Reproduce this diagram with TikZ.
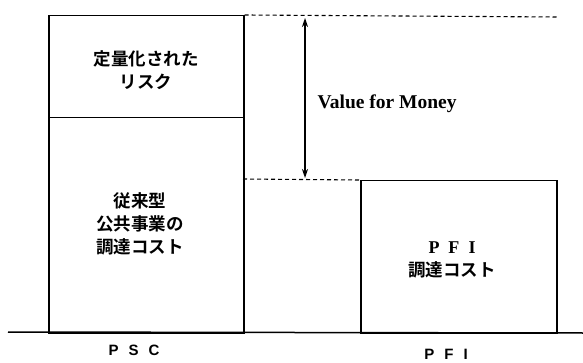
\documentclass[tikz,border=0pt]{standalone}
\usepackage{fontspec}
\setmainfont{Liberation Serif}
\newfontfamily\jp{Noto Sans CJK JP}[BoldFont={* Bold}]
\newfontfamily\lab{Liberation Sans}
\usetikzlibrary{arrows.meta}
\begin{document}
\begin{tikzpicture}[x=1pt,y=-1pt,
  box/.style={draw,line width=1.5pt,minimum width=195pt,inner sep=0pt,anchor=north west},
  jtext/.style={font=\jp\bfseries\fontsize{17.5}{23}\selectfont,align=center},
  dashline/.style={line width=1.1pt,dash pattern=on 4pt off 3pt}]
\useasboundingbox (0,0) rectangle (583,363);
\node[box,minimum height=102pt] (risk) at (48,15) {};
\node[box,minimum height=215pt] (psc) at (48,117) {};
\node[box,minimum width=196pt,minimum height=152pt] (pfi) at (360,180) {};
\coordinate (b0) at (8,332);
\coordinate (b1) at (583,333);
\draw[line width=1.5pt] (b0) -- (b1);
\coordinate (dtop) at (557,17);
\draw[dashline] (risk.north east) -- (dtop);
\coordinate (dlow) at (243,179);
\draw[dashline] (dlow) -- (pfi.north west);
\coordinate (atop) at (305,18);
\coordinate (abot) at (305,178);
\draw[line width=1.3pt,{Stealth[length=9pt,width=6pt]}-{Stealth[length=9pt,width=6pt]}] (atop) -- (abot);
\node[jtext] (t1) at (146,70) {定量化された\\リスク};
\node[jtext] (t2) at (140,224) {従来型\\公共事業の\\調達コスト};
\node[jtext] (t3) at (452,260) {{\rmfamily\bfseries\fontsize{18}{18}\selectfont P\,\,\,F\,\,\,I}\\調達コスト};
\node[font=\bfseries\fontsize{19.5}{19.5}\selectfont,anchor=west] (vfm) at (314,104) {Value for Money};
\node[font=\lab\bfseries\fontsize{15}{15}\selectfont] (lpsc) at (134,350) {P\,\,\,\,S\,\,\,\,C};
\node[font=\lab\bfseries\fontsize{15}{15}\selectfont] (lpfi) at (446,354) {P\,\,\,\,F\,\,\,\,I};
\end{tikzpicture}
\end{document}
